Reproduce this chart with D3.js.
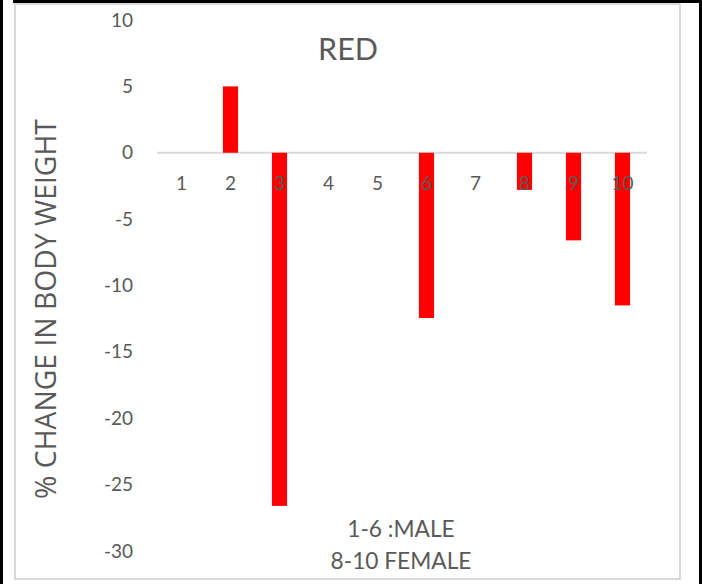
<!DOCTYPE html>
<html>
<head>
<meta charset="utf-8">
<script src="https://cdn.jsdelivr.net/npm/d3@7"></script>
<style>
  html, body { margin: 0; padding: 0; background: #fff; }
  svg { display: block; }
  text { font-family: Lato, "Open Sans", sans-serif; fill: #595959; }
</style>
</head>
<body>
<svg id="chart" width="702" height="584"></svg>
<script>
// Subject numbers and % change in body weight
const subjects = ["1", "2", "3", "4", "5", "6", "7", "8", "9", "10"];
const weightChange = [0, 5, -26.6, 0, 0, -12.45, 0, -2.8, -6.6, -11.5];
const yTicks = [10, 5, 0, -5, -10, -15, -20, -25, -30];
const chartTitle = "RED";
const yTitle = "% CHANGE IN BODY WEIGHT";
const noteLines = ["1-6 :MALE", "8-10 FEMALE"];

const svg = d3.select("#chart");
const W = 702, H = 584;

// size a text element's font so that its run is the given width
function fitWidth(sel, width, base) {
  sel.style("font-size", base + "px");
  const len = sel.node().getComputedTextLength();
  const size = base * width / len;
  sel.style("font-size", size + "px");
  return size;
}

// outer page frame
svg.append("rect").attr("x", 0).attr("y", 0).attr("width", W).attr("height", H).attr("fill", "#fff");
svg.append("rect").attr("x", 0).attr("y", 0).attr("width", 3).attr("height", H).attr("fill", "#000");
svg.append("rect").attr("x", 13).attr("y", 0).attr("width", W - 13).attr("height", 3).attr("fill", "#000");
svg.append("rect").attr("x", 699).attr("y", 0).attr("width", 3).attr("height", H).attr("fill", "#000");

// chart area border
svg.append("rect")
  .attr("x", 15).attr("y", 4).attr("width", 665).attr("height", 575)
  .attr("fill", "none").attr("stroke", "#d9d9d9").attr("stroke-width", 2);

const plot = { left: 157, right: 647, top: 20, bottom: 551 };

const x = d3.scaleBand()
  .domain(subjects)
  .range([plot.left, plot.right])
  .paddingInner(0.69)
  .paddingOuter(0.345);

const y = d3.scaleLinear()
  .domain([-30, 10])
  .range([plot.bottom, plot.top]);

// value axis labels (plain hyphen for negatives)
const yAxis = svg.append("g")
  .attr("transform", `translate(${plot.left},0)`)
  .call(d3.axisLeft(y).tickValues(yTicks).tickSize(0).tickPadding(24).tickFormat(d => String(d)));
yAxis.select(".domain").remove();
yAxis.selectAll("text").style("font-size", "19px").attr("fill", "#595959")
  .style("font-family", "Lato, 'Open Sans', sans-serif");

// zero line
svg.append("line")
  .attr("x1", plot.left).attr("x2", plot.right)
  .attr("y1", y(0)).attr("y2", y(0))
  .attr("stroke", "#d9d9d9").attr("stroke-width", 2);

// bars
svg.append("g").selectAll("rect")
  .data(subjects.map((s, i) => ({ s, v: weightChange[i] })))
  .join("rect")
  .attr("x", d => x(d.s))
  .attr("width", x.bandwidth())
  .attr("y", d => y(Math.max(0, d.v)))
  .attr("height", d => Math.abs(y(d.v) - y(0)))
  .attr("fill", "#ff0000");

// category labels (drawn over the bars)
const xAxis = svg.append("g")
  .attr("transform", `translate(0,${y(0)})`)
  .call(d3.axisBottom(x).tickSize(0).tickPadding(24));
xAxis.select(".domain").remove();
xAxis.selectAll("text").style("font-size", "19px").attr("fill", "#595959")
  .style("font-family", "Lato, 'Open Sans', sans-serif");

// title
const title = svg.append("text")
  .attr("x", 348).attr("y", 48)
  .attr("text-anchor", "middle").attr("dominant-baseline", "central")
  .text(chartTitle);
fitWidth(title, 60, 26);

// axis title
const yt = svg.append("text")
  .attr("transform", "translate(45,309) rotate(-90)")
  .attr("text-anchor", "middle").attr("dominant-baseline", "central")
  .style("font-family", "'Open Sans', sans-serif")
  .text(yTitle);
fitWidth(yt, 380, 22);

// note
const notes = svg.append("g").selectAll("text")
  .data(noteLines)
  .join("text")
  .attr("x", 401)
  .attr("y", (d, i) => 528 + i * 32)
  .attr("text-anchor", "middle").attr("dominant-baseline", "central")
  .text(d => d);
const noteSize = fitWidth(notes.filter((d, i) => i === 1), 141, 20);
notes.style("font-size", noteSize + "px");
</script>
</body>
</html>
